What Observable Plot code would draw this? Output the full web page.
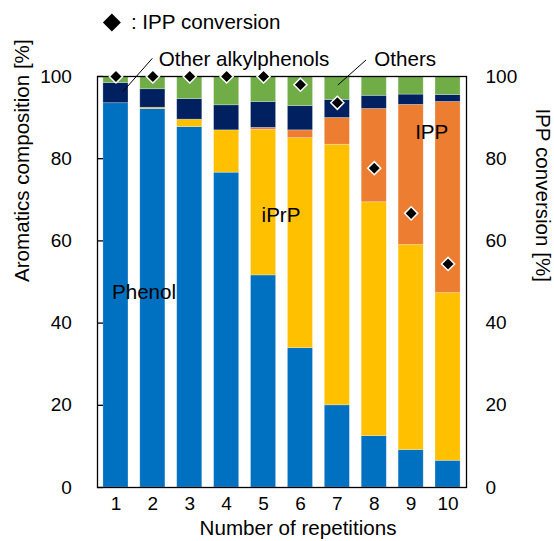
<!DOCTYPE html>
<html>
<head>
<meta charset="utf-8">
<script src="https://cdn.jsdelivr.net/npm/d3@7"></script>
<script src="https://cdn.jsdelivr.net/npm/@observablehq/plot@0.6"></script>
<style>
  body { margin: 0; background: #fff; }
  #chart svg { display: block; }
</style>
</head>
<body>
<div id="chart"></div>
<script>
// Aromatics composition (%) after each repetition, stacked bottom to top
const repetitions = ["1", "2", "3", "4", "5", "6", "7", "8", "9", "10"];
const components = ["Phenol", "iPrP", "IPP", "Other alkylphenols", "Others"];
const componentColors = ["#0070C0", "#FFC000", "#ED7D31", "#002060", "#70AD47"];

const phenol            = [93.5, 92.1, 87.7, 76.6, 51.6, 33.9, 20.0, 12.5,  9.1,  6.5];
const iPrP              = [ 0.0,  0.3,  1.8, 10.3, 35.4, 51.1, 63.4, 56.9, 49.9, 40.8];
const ipp               = [ 0.0,  0.0,  0.0,  0.0,  0.5,  1.9,  6.5, 22.7, 34.1, 46.5];
const otherAlkylphenols = [ 4.9,  4.5,  5.0,  6.1,  6.3,  5.9,  4.4,  3.2,  2.5,  1.7];
const others            = [ 1.6,  3.1,  5.5,  7.0,  6.2,  7.2,  5.7,  4.7,  4.4,  4.5];

// IPP conversion (%), right axis (same 0–100 range)
const ippConversion = [100, 100, 100, 100, 100, 98.0, 93.6, 77.7, 66.7, 54.4];

const yTicks = [0, 20, 40, 60, 80, 100];

// In-bar component labels
const barLabels = [
  {rep: "1", value: 47.4, text: "Phenol", dx: -4},
  {rep: "5", value: 66.3, text: "iPrP", dx: -2},
  {rep: "9", value: 86.4, text: "IPP", dx: 4}
];

const series = [phenol, iPrP, ipp, otherAlkylphenols, others];
const rows = repetitions.flatMap((rep, i) =>
  components.map((component, k) => ({rep, component, value: series[k][i]}))
);
const conversion = repetitions.map((rep, i) => ({rep, value: ippConversion[i]}));

const font = "'Liberation Sans', Arial, Helvetica, sans-serif";
const labelSize = 20.6;

const plot = Plot.plot({
  width: 554,
  height: 541,
  marginLeft: 97,
  marginRight: 88,
  marginTop: 76,
  marginBottom: 54,
  style: {fontFamily: font, fontSize: "19px", color: "#000", background: "#fff"},
  x: {domain: repetitions, paddingInner: 0.32, paddingOuter: 0.16, round: false, label: null},
  y: {domain: [0, 100], label: null},
  color: {domain: components, range: componentColors},
  marks: [
    Plot.barY(rows, {
      x: "rep", y: "value", fill: "component",
      stroke: "#fff", strokeOpacity: 0.35, strokeWidth: 0.75
    }),
    Plot.frame({stroke: "#000", strokeWidth: 1.3}),
    Plot.axisY({anchor: "left", ticks: yTicks, tickSize: -6, tickPadding: 31.6, strokeWidth: 1.3, label: null}),
    Plot.axisY({anchor: "right", ticks: yTicks, tickSize: 0, tickPadding: 19, label: null}),
    Plot.axisX({tickSize: 0, tickPadding: 9, label: null}),
    Plot.dot(conversion, {
      x: "rep", y: "value", symbol: "diamond2", r: 5.9,
      fill: "#000", stroke: "#fff", strokeWidth: 1.5
    }),
    ...barLabels.map((l) => Plot.text([l], {
      x: "rep", y: "value", text: "text", dx: l.dx,
      textAnchor: "start", fontSize: labelSize, fill: "#000"
    })),
    // axis titles
    Plot.text(["Aromatics composition [%]"], {
      frameAnchor: "left", rotate: -90, dx: -75, fontSize: labelSize, fill: "#000"
    }),
    Plot.text(["IPP conversion [%]"], {
      frameAnchor: "right", rotate: 90, dx: 76, fontSize: labelSize, fill: "#000"
    }),
    Plot.text(["Number of repetitions"], {
      frameAnchor: "bottom", lineAnchor: "middle", dx: 16, dy: 41, fontSize: labelSize, fill: "#000"
    }),
    // legend for the diamond markers
    Plot.dot([0], {
      frameAnchor: "top-left", dx: 14.4, dy: -54, symbol: "diamond2", r: 8.1, fill: "#000"
    }),
    Plot.text([": IPP conversion"], {
      frameAnchor: "top-left", lineAnchor: "middle", dx: 33.4, dy: -54,
      textAnchor: "start", fontSize: labelSize, fill: "#000"
    })
  ]
});

document.getElementById("chart").appendChild(plot);

// Callout labels with leader lines, positioned from the plot's scales
const xs = plot.scale("x");
const ys = plot.scale("y");
const cx = (rep) => xs.apply(rep) + xs.bandwidth / 2;
const callouts = [
  {text: "Other alkylphenols", from: {rep: "1", dx: 7.5, value: 96.2}, to: {rep: "2", dx: 0, value: 104.3}, textRep: "2", textDx: 6.5, textValue: 104.0},
  {text: "Others", from: {rep: "7", dx: 1, value: 97.8}, to: {rep: "8", dx: -7.7, value: 103.9}, textRep: "8", textDx: 0.6, textValue: 104.0}
];
const svg = d3.select(plot);
const g = svg.append("g")
  .attr("font-family", font)
  .attr("font-size", labelSize)
  .attr("text-anchor", "start");
for (const c of callouts) {
  g.append("line")
    .attr("x1", cx(c.from.rep) + c.from.dx).attr("y1", ys.apply(c.from.value))
    .attr("x2", cx(c.to.rep) + c.to.dx).attr("y2", ys.apply(c.to.value))
    .attr("stroke", "#000").attr("stroke-width", 1);
  g.append("text")
    .attr("x", cx(c.textRep) + c.textDx).attr("y", ys.apply(c.textValue))
    .attr("dy", "0.32em").attr("fill", "#000")
    .text(c.text);
}
</script>
</body>
</html>
